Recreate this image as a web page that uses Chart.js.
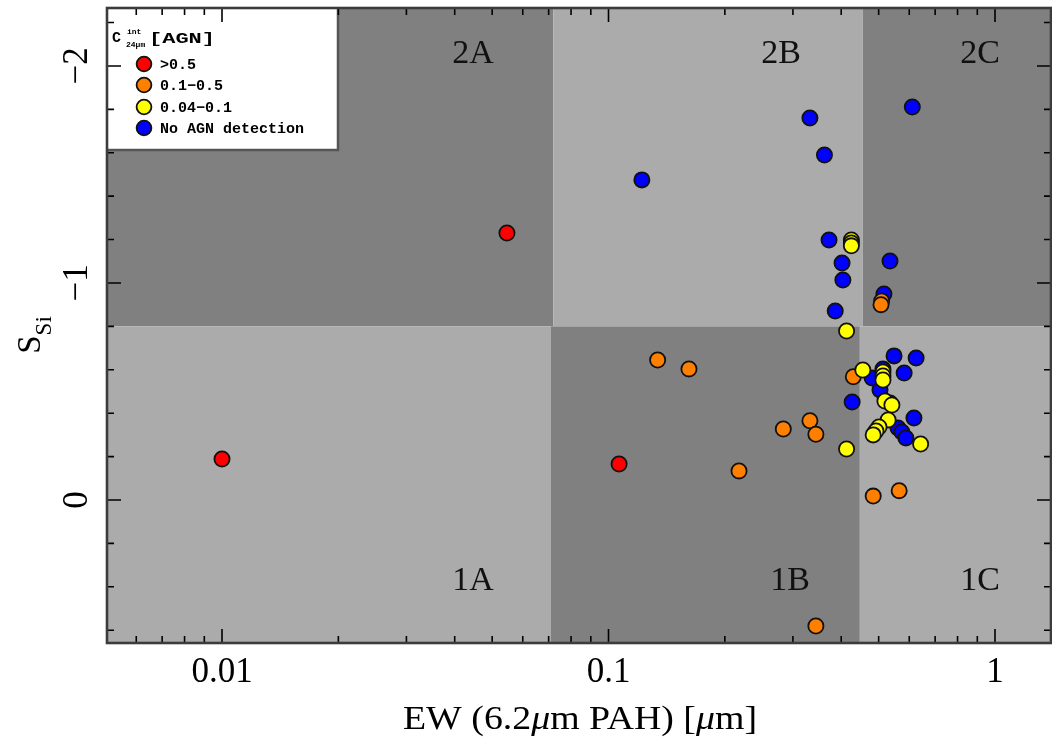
<!DOCTYPE html>
<html>
<head>
<meta charset="utf-8">
<script src="https://cdn.jsdelivr.net/npm/chart.js@4.4.1/dist/chart.umd.min.js"></script>
<style>
  html, body { margin: 0; padding: 0; background: #fff; overflow: hidden; }
  canvas { display: block; }
</style>
</head>
<body>
<canvas id="diag" width="1052" height="737"></canvas>
<script>
// ---- Data: EW(6.2um PAH) [um] and silicate strength S_Si, by AGN fraction class ----
const redEW = [0.0100, 0.0546, 0.1065];
const redS  = [-0.189, -1.230, -0.166];

const orangeEW = [0.134, 0.1615, 0.2176, 0.2833, 0.332, 0.344, 0.344, 0.484, 0.565, 0.430, 0.509, 0.507];
const orangeS  = [-0.645, -0.604, -0.134, -0.327, -0.365, -0.303, 0.581, -0.018, -0.043, -0.568, -0.917, -0.900];

const yellowEW = [0.425, 0.425, 0.425, 0.413, 0.413, 0.455, 0.513, 0.513, 0.513, 0.519, 0.541, 0.529, 0.501, 0.492, 0.484, 0.642];
const yellowS  = [-1.198, -1.184, -1.171, -0.779, -0.235, -0.599, -0.590, -0.571, -0.553, -0.456, -0.438, -0.369, -0.336, -0.318, -0.300, -0.258];

const blueEW = [0.122, 0.332, 0.362, 0.611, 0.372, 0.402, 0.404, 0.386, 0.535, 0.516, 0.427,
                0.548, 0.625, 0.582, 0.513, 0.481, 0.504, 0.535, 0.617, 0.561, 0.574, 0.588];
const blueS  = [-1.475, -1.760, -1.590, -1.811, -1.198, -1.092, -1.014, -0.871, -1.101, -0.949, -0.452,
                -0.664, -0.654, -0.585, -0.604, -0.562, -0.507, -0.447, -0.378, -0.332, -0.313, -0.286];

const seriesLabels = ['>0.5', '0.1\u22120.5', '0.04\u22120.1', 'No AGN detection'];
const seriesColors = ['#ff0000', '#ff8000', '#ffff00', '#0000ff'];

// ---- Classification grid (Spoon diagram classes) ----
const ewBoundsUpper = [0.072, 0.455];   // 2A | 2B | 2C
const ewBoundsLower = [0.0708, 0.447];  // 1A | 1B | 1C
const siBound = -0.8;
const classNames = ['2A', '2B', '2C', '1A', '1B', '1C'];
const classEW    = [0.0446, 0.2795, 0.915, 0.0446, 0.295, 0.915];
const classS     = [-2.06, -2.06, -2.06, 0.37, 0.37, 0.37];

// ---- Axes ----
const xRange = [0.00504, 1.396];
const yRange = [-2.267, 0.659];
const xTickValues = [0.01, 0.1, 1];
const xTickLabels = ['0.01', '0.1', '1'];
const yTickValues = [-2, -1, 0];
const yTickLabels = ['\u22122', '\u22121', '0'];

const DARK = '#808080';
const LIGHT = '#ababab';
const SERIF = '"Liberation Serif", "Times New Roman", serif';
const MONO = '"Liberation Mono", "DejaVu Sans Mono", monospace';

function toPoints(xs, ys) { return xs.map((v, i) => ({ x: v, y: ys[i] })); }

const allSeries = [
  { ew: redEW, s: redS, order: 1 },
  { ew: orangeEW, s: orangeS, order: 2 },
  { ew: yellowEW, s: yellowS, order: 0 },
  { ew: blueEW, s: blueS, order: 3 }
];

const datasets = allSeries.map((d, i) => ({
  label: seriesLabels[i],
  data: toPoints(d.ew, d.s),
  backgroundColor: seriesColors[i],
  borderColor: '#111',
  borderWidth: 1.8,
  pointRadius: 7.6,
  order: d.order
}));

// Draw text segments (with optional italic / shifts), scaled to a target width
function drawSegments(ctx, segs, x, y, align, targetWidth) {
  let total = 0;
  segs.forEach(s => { ctx.font = s.font; s.w = ctx.measureText(s.t).width; total += s.w; });
  const sx = targetWidth ? targetWidth / total : 1;
  ctx.save();
  ctx.translate(x, y);
  ctx.scale(sx, 1);
  let cx = align === 'center' ? -total / 2 : 0;
  ctx.textBaseline = 'alphabetic';
  ctx.textAlign = 'left';
  segs.forEach(s => {
    ctx.font = s.font;
    ctx.fillText(s.t, cx, s.dy || 0);
    cx += s.w;
  });
  ctx.restore();
}

const spoonPlugin = {
  id: 'spoonPlugin',
  beforeDatasetsDraw(chart) {
    const { ctx, chartArea: a, scales: { x, y } } = chart;
    ctx.save();
    ctx.beginPath();
    ctx.rect(a.left, a.top, a.right - a.left, a.bottom - a.top);
    ctx.clip();
    const yb = y.getPixelForValue(siBound);
    const xu = ewBoundsUpper.map(v => x.getPixelForValue(v));
    const xl = ewBoundsLower.map(v => x.getPixelForValue(v));
    // upper row: dark | light | dark
    ctx.fillStyle = DARK;  ctx.fillRect(a.left, a.top, xu[0] - a.left, yb - a.top);
    ctx.fillStyle = LIGHT; ctx.fillRect(xu[0], a.top, xu[1] - xu[0], yb - a.top);
    ctx.fillStyle = DARK;  ctx.fillRect(xu[1], a.top, a.right - xu[1], yb - a.top);
    // lower row: light | dark | light
    ctx.fillStyle = LIGHT; ctx.fillRect(a.left, yb, xl[0] - a.left, a.bottom - yb);
    ctx.fillStyle = DARK;  ctx.fillRect(xl[0], yb, xl[1] - xl[0], a.bottom - yb);
    ctx.fillStyle = LIGHT; ctx.fillRect(xl[1], yb, a.right - xl[1], a.bottom - yb);

    // class names
    ctx.fillStyle = '#111';
    ctx.font = '34px ' + SERIF;
    ctx.textAlign = 'center';
    ctx.textBaseline = 'middle';
    classNames.forEach((n, i) => {
      ctx.fillText(n, x.getPixelForValue(classEW[i]), y.getPixelForValue(classS[i]) + 1);
    });
    ctx.restore();
  },
  afterDatasetsDraw(chart) {
    const { ctx, chartArea: a } = chart;
    // legend box in the upper-left corner
    const bx = a.left - 1, by = a.top, bw = 232, bh = 142;
    ctx.save();
    ctx.fillStyle = '#ffffff';
    ctx.fillRect(bx, by, bw, bh);
    ctx.strokeStyle = '#555';
    ctx.lineWidth = 2.5;
    ctx.beginPath();
    ctx.moveTo(bx + bw, by);
    ctx.lineTo(bx + bw, by + bh);
    ctx.lineTo(bx, by + bh);
    ctx.stroke();

    ctx.fillStyle = '#000';
    // legend title: C^int_24um [AGN]
    drawSegments(ctx, [{ t: 'C', font: 'bold 15px ' + MONO }], bx + 6, by + 34, 'left');
    drawSegments(ctx, [{ t: 'int', font: 'bold 8px ' + MONO }], bx + 21, by + 26, 'left');
    drawSegments(ctx, [{ t: '24\u03bcm', font: 'bold 8px ' + MONO }], bx + 20, by + 39, 'left');
    drawSegments(ctx, [{ t: '[AGN]', font: 'bold 15px ' + MONO }], bx + 43, by + 35, 'left', 66);

    const rows = [56, 77, 99, 120];
    chart.data.datasets.forEach((ds, i) => {
      const cy = by + rows[i];
      ctx.beginPath();
      ctx.arc(bx + 38, cy, 7.4, 0, Math.PI * 2);
      ctx.fillStyle = ds.backgroundColor;
      ctx.fill();
      ctx.lineWidth = 1.8;
      ctx.strokeStyle = '#111';
      ctx.stroke();
      ctx.fillStyle = '#000';
      ctx.font = 'bold 15px ' + MONO;
      ctx.textAlign = 'left';
      ctx.textBaseline = 'middle';
      ctx.fillText(ds.label, bx + 54, cy + 1);
    });
    ctx.restore();
  },
  afterDraw(chart) {
    const { ctx, chartArea: a, scales: { x, y } } = chart;
    ctx.save();
    // ticks on all four sides, pointing inward
    ctx.strokeStyle = '#000';
    ctx.lineWidth = 1.6;
    ctx.beginPath();
    for (let d = -3; d <= 0; d++) {
      for (let m = 1; m <= 9; m++) {
        const v = m * Math.pow(10, d);
        if (v < xRange[0] || v > xRange[1]) continue;
        const px = x.getPixelForValue(v);
        const len = m === 1 ? 14 : 7;
        ctx.moveTo(px, a.bottom); ctx.lineTo(px, a.bottom - len);
        ctx.moveTo(px, a.top); ctx.lineTo(px, a.top + len);
      }
    }
    for (let k = -12; k <= 4; k++) {
      const v = k * 0.2;
      if (v < yRange[0] || v > yRange[1]) continue;
      const py = y.getPixelForValue(v);
      const len = k % 5 === 0 ? 14 : 7;
      ctx.moveTo(a.left, py); ctx.lineTo(a.left + len, py);
      ctx.moveTo(a.right, py); ctx.lineTo(a.right - len, py);
    }
    ctx.stroke();

    // frame
    ctx.strokeStyle = '#3c3c3c';
    ctx.lineWidth = 2.6;
    ctx.strokeRect(a.left, a.top, a.right - a.left, a.bottom - a.top);

    // x tick labels
    ctx.fillStyle = '#000';
    ctx.font = '35px ' + SERIF;
    ctx.textAlign = 'center';
    ctx.textBaseline = 'alphabetic';
    xTickValues.forEach((v, i) => {
      ctx.fillText(xTickLabels[i], x.getPixelForValue(v), a.bottom + 39);
    });

    // y tick labels, rotated
    yTickValues.forEach((v, i) => {
      ctx.save();
      ctx.translate(a.left - 20, y.getPixelForValue(v));
      ctx.rotate(-Math.PI / 2);
      ctx.font = '35px ' + SERIF;
      ctx.textAlign = 'center';
      ctx.textBaseline = 'alphabetic';
      ctx.fillText(yTickLabels[i], 0, 0);
      ctx.restore();
    });

    // x title: EW (6.2 um PAH) [um]
    const N = '34px ' + SERIF, I = 'italic 34px ' + SERIF;
    drawSegments(ctx, [
      { t: 'EW (6.2', font: N }, { t: '\u03bc', font: I }, { t: 'm PAH) [', font: N },
      { t: '\u03bc', font: I }, { t: 'm]', font: N }
    ], 580, 729, 'center', 354);

    // y title: S_Si
    ctx.save();
    ctx.translate(40, 335);
    ctx.rotate(-Math.PI / 2);
    drawSegments(ctx, [
      { t: 'S', font: '33px ' + SERIF },
      { t: 'Si', font: '23px ' + SERIF, dy: 11 }
    ], 0, 0, 'center');
    ctx.restore();
    ctx.restore();
  }
};

new Chart(document.getElementById('diag'), {
  type: 'scatter',
  data: { datasets },
  options: {
    responsive: false,
    animation: false,
    devicePixelRatio: 1,
    layout: { autoPadding: false, padding: { top: 8, right: 1, left: 0, bottom: 0 } },
    plugins: { legend: { display: false }, tooltip: { enabled: false } },
    scales: {
      x: {
        type: 'logarithmic',
        min: xRange[0], max: xRange[1],
        grid: { display: false }, border: { display: false },
        ticks: { display: false },
        afterFit(scale) { scale.height = 94; }
      },
      y: {
        type: 'linear',
        reverse: true,
        min: yRange[0], max: yRange[1],
        grid: { display: false }, border: { display: false },
        ticks: { display: false },
        afterFit(scale) { scale.width = 107; }
      }
    }
  },
  plugins: [spoonPlugin]
});
</script>
</body>
</html>
